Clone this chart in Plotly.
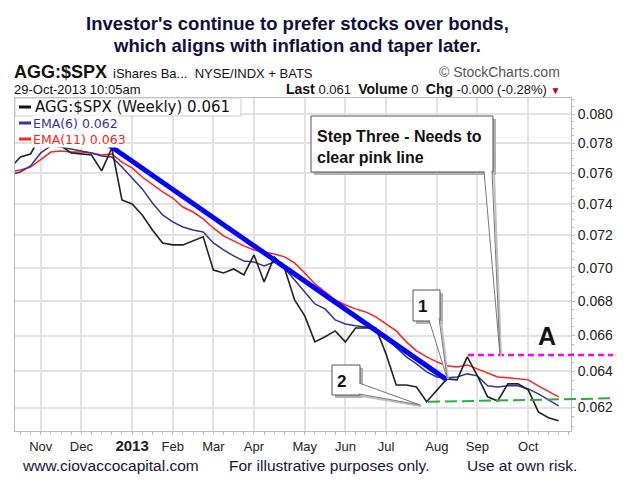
import math
import pandas as pd
import plotly.graph_objects as go

# ---------------- data ----------------
week_start = "2012-10-15"
week_end = "2013-10-28"
weeks = pd.date_range(week_start, week_end, freq="7D")

ratio_weekly = [0.07634, 0.07708, 0.07728, 0.0785, 0.0786, 0.07782, 0.07735, 0.07728, 0.07721, 0.07615,
                0.07768, 0.07425, 0.07400, 0.07329, 0.07234, 0.07153, 0.07141, 0.07141, 0.07166, 0.07191,
                0.06987, 0.06969, 0.06993, 0.06957, 0.07079, 0.06915, 0.07067, 0.06999, 0.06808, 0.06714,
                0.06564, 0.06593, 0.06627, 0.06564, 0.06644, 0.06644, 0.06644, 0.06496, 0.06323, 0.06323,
                0.06312, 0.06231, 0.06296, 0.06356, 0.06351, 0.06479, 0.06373, 0.06258, 0.06236, 0.06329,
                0.06329, 0.06296, 0.06177, 0.06145, 0.06129]
ema6 = [0.07588, 0.07608, 0.07648, 0.07735, 0.07782, 0.07775, 0.07762, 0.07748, 0.07735, 0.07715,
        0.07708, 0.07641, 0.07569, 0.07497, 0.07406, 0.07329, 0.07285, 0.07253, 0.07234, 0.07222,
        0.07153, 0.07110, 0.07073, 0.07042, 0.07036, 0.07012, 0.07036, 0.06999, 0.06927, 0.06855,
        0.06784, 0.06755, 0.06691, 0.06667, 0.06656, 0.06650, 0.06638, 0.06587, 0.06530, 0.06479,
        0.06440, 0.06395, 0.06367, 0.06362, 0.06367, 0.06384, 0.06373, 0.06318, 0.06312, 0.06318,
        0.06318, 0.06301, 0.06274, 0.06242, 0.06209]
ema11 = [0.07608, 0.07621, 0.07641, 0.07688, 0.07741, 0.07748, 0.07741, 0.07741, 0.07735, 0.07721,
         0.07728, 0.07674, 0.07635, 0.07575, 0.07523, 0.07477, 0.07438, 0.07380, 0.07348, 0.07304,
         0.07247, 0.07197, 0.07166, 0.07135, 0.07110, 0.07098, 0.07085, 0.07067, 0.07030, 0.06969,
         0.06903, 0.06855, 0.06808, 0.06778, 0.06755, 0.06737, 0.06708, 0.06667, 0.06627, 0.06564,
         0.06513, 0.06479, 0.06451, 0.06429, 0.06423, 0.06434, 0.06412, 0.06390, 0.06367, 0.06362,
         0.06356, 0.06351, 0.06318, 0.06290, 0.06258]

trend_dates = ["2012-12-18", "2013-08-12"]
trend_values = [0.07816, 0.06351]
pink_level = 0.0649
green_levels = [0.06231, 0.06250]

month_ticks = ["2012-11-05", "2012-12-03", "2013-01-07", "2013-02-04", "2013-03-04", "2013-04-01",
               "2013-05-06", "2013-06-03", "2013-07-01", "2013-08-05", "2013-09-02", "2013-10-07"]
month_labels = ["Nov", "Dec", "<b><span style='font-size:15px'>2013</span></b>", "Feb", "Mar", "Apr",
                "May", "Jun", "Jul", "Aug", "Sep", "Oct"]
y_ticks = [0.062, 0.064, 0.066, 0.068, 0.070, 0.072, 0.074, 0.076, 0.078, 0.080]
y_labels = ["%.3f" % v for v in y_ticks]
y_min, y_max = 0.06075, 0.08113

# ---------------- layout helpers ----------------
W, H = 639, 491
PL, PR, PT, PB = 15, 571, 98, 431


def px(x):
    return (x - PL) / (PR - PL)


def py(y):
    return (PB - y) / (PB - PT)


def pv(v):
    # paper fraction of a value on the log y axis
    lo, hi = math.log10(y_min), math.log10(y_max)
    return (math.log10(v) - lo) / (hi - lo)


FONT = "Liberation Sans, Arial, sans-serif"
NARROW = "Liberation Sans Narrow, Arial Narrow, Liberation Sans, Arial, sans-serif"
VER = "DejaVu Sans, Verdana, sans-serif"

fig = go.Figure()
fig.add_trace(go.Scatter(x=weeks, y=ema11, mode="lines", line=dict(color="#ff2020", width=1.5),
                         hoverinfo="skip"))
fig.add_trace(go.Scatter(x=weeks, y=ema6, mode="lines", line=dict(color="#333399", width=1.5),
                         hoverinfo="skip"))
fig.add_trace(go.Scatter(x=weeks, y=ratio_weekly, mode="lines", line=dict(color="#222222", width=1.6),
                         hoverinfo="skip"))
fig.add_trace(go.Scatter(x=trend_dates, y=trend_values, mode="lines", line=dict(color="#0000ff", width=5),
                         hoverinfo="skip"))

shapes = []
ann = []


def text(x, y, t, size, color="#111111", family=FONT, xanchor="left", **kw):
    d = dict(xref="paper", yref="paper", x=px(x), y=py(y), text=t, xanchor=xanchor, yanchor="middle",
             showarrow=False, font=dict(family=family, size=size, color=color))
    d.update(kw)
    ann.append(d)


# level lines (extend past plot area)
shapes.append(dict(type="line", xref="paper", yref="paper", x0=px(468), x1=px(613),
                   y0=pv(pink_level), y1=pv(pink_level),
                   line=dict(color="#ff00ff", width=2.5, dash="6px,4px")))
shapes.append(dict(type="line", xref="paper", yref="paper", x0=px(428), x1=px(613),
                   y0=pv(green_levels[0]), y1=pv(green_levels[1]),
                   line=dict(color="#2eaa44", width=2, dash="12px,5px")))


def rect(x0, y0, x1, y1, fill, line, lw=1):
    shapes.append(dict(type="rect", xref="paper", yref="paper", x0=px(x0), x1=px(x1),
                       y0=py(y1), y1=py(y0), fillcolor=fill, line=dict(color=line, width=lw)))


def path(pts, fill, line, lw=1, close=False):
    d = "M " + " L ".join("%.5f,%.5f" % (px(a), py(b)) for a, b in pts)
    if close:
        d += " Z"
    shapes.append(dict(type="path", xref="paper", yref="paper", path=d, fillcolor=fill,
                       line=dict(color=line, width=lw)))


def callout(box, wedge_a, tip, wedge_b):
    x0, y0, x1, y1 = box
    rect(x0 + 3, y0 + 3, x1 + 3, y1 + 3, "#b0b0b0", "#b0b0b0", 0)
    path([(wedge_a[0] + 2, wedge_a[1] + 2), (tip[0] + 1, tip[1] + 1), (wedge_b[0] + 2, wedge_b[1] + 2)],
         "rgba(0,0,0,0)", "#c0c0c0", 2)
    rect(x0, y0, x1, y1, "white", "#555555", 1)
    path([wedge_a, tip, wedge_b], "white", "#777777", 1)


callout((311, 116, 493, 172), (484, 171), (500, 355), (492, 171))
callout((413, 290, 440, 321), (429, 320), (447, 378), (439, 318))
callout((332, 365, 360, 395), (359, 383), (420, 405), (359, 394))

text(315, 147, "<b>Step Three - Needs to<br>clear pink line</b>", 16, align="left")
text(416, 306, "<b>1</b>", 17)
text(335, 381, "<b>2</b>", 17)
text(547, 336, "<b>A</b>", 25, xanchor="center")

# legend
rect(PL, PT, 241, 116, "white", "#cccccc", 1)
for yy, col in [(107, "#111111"), (123, "#333399"), (139, "#ff2020")]:
    shapes.append(dict(type="line", xref="paper", yref="paper", x0=px(19), x1=px(31), y0=py(yy), y1=py(yy),
                       line=dict(color=col, width=3)))
text(33, 107, "AGG:$SPX (Weekly) 0.061", 15, family=VER)
text(32, 123, "EMA(6) 0.062", 12.5, color="#333399", family=VER, bgcolor="white", borderpad=0)
text(32, 139, "EMA(11) 0.063", 12.5, color="#ff2020", family=VER, bgcolor="white", borderpad=0)

# header
text(297, 23, "<b>Investor's continue to prefer stocks over bonds,</b>", 18.5, color="#10103a",
     family=NARROW, xanchor="center")
text(297, 46, "<b>which aligns with inflation and taper later.</b>", 18.5, color="#10103a",
     family=NARROW, xanchor="center")
text(12, 72, "<b>AGG:$SPX</b>", 18)
text(111, 73, "iShares Ba...\u00a0\u00a0NYSE/INDX + BATS", 13)
text(562, 72, "\u00a9 StockCharts.com", 14, color="#555555", xanchor="right")
text(12, 89, "29-Oct-2013 10:05am", 13)
text(562, 89,
     "<b><span style='font-size:14px'>Last</span></b> 0.061\u00a0\u00a0"
     "<b><span style='font-size:14px'>Volume</span></b> 0\u00a0\u00a0"
     "<b><span style='font-size:14px'>Chg</span></b> -0.000 (-0.28%) "
     "<span style='color:#b0003a;font-size:10px'>\u25bc</span>", 13, xanchor="right")

# footer
for xx, t in [(20, "www.ciovaccocapital.com"), (227, "For illustrative purposes only."),
              (465, "Use at own risk.")]:
    text(xx, 465, t, 15.5, color="#14143c")

minor_y = [round(0.0610 + 0.0005 * i, 4) for i in range(41)]
minor_y = [v for v in minor_y if all(abs(v - t) > 1e-7 for t in y_ticks)]

fig.update_layout(
    width=W, height=H,
    margin=dict(l=PL, r=W - PR, t=PT, b=H - PB),
    paper_bgcolor="white", plot_bgcolor="white",
    showlegend=False,
    shapes=shapes, annotations=ann,
    xaxis=dict(type="date", range=["2012-10-18 07:00", "2013-11-05 12:00"],
               tickmode="array", tickvals=month_ticks, ticktext=month_labels,
               showgrid=True, gridcolor="#e2e2e2", gridwidth=1.5,
               showline=True, linecolor="#bbbbbb", linewidth=1, mirror=True,
               ticks="outside", ticklen=3, tickcolor="#bbbbbb",
               minor=dict(tickmode="linear", tick0="2012-10-22", dtick=7 * 86400000,
                          ticks="outside", ticklen=3, tickcolor="#bbbbbb", showgrid=False),
               tickfont=dict(family=FONT, size=13, color="#222222"), zeroline=False),
    yaxis=dict(type="log", side="right",
               range=[math.log10(y_min), math.log10(y_max)],
               tickmode="array", tickvals=y_ticks, ticktext=y_labels,
               showgrid=True, gridcolor="#e2e2e2", gridwidth=1.5,
               showline=True, linecolor="#bbbbbb", linewidth=1, mirror=True,
               ticks="outside", ticklen=3, tickcolor="#bbbbbb",
               minor=dict(tickmode="array", tickvals=minor_y, ticks="outside", ticklen=2,
                          tickcolor="#bbbbbb", showgrid=False),
               tickfont=dict(family=FONT, size=14, color="#222222"), zeroline=False),
)

fig.write_html("out.html", config={"displayModeBar": False},
               post_script="document.body.style.margin='0px';")
